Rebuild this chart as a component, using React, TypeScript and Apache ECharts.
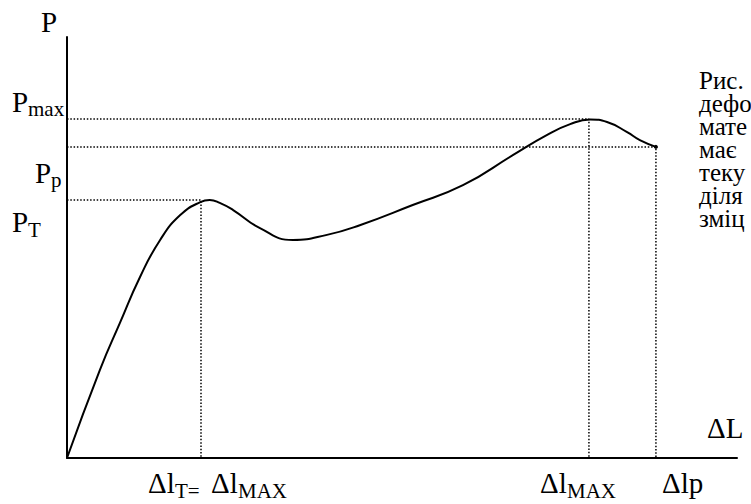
import React, { useEffect, useRef } from "react";
import * as echarts from "echarts";

// Curve P(Δl) (x: 0..100 along ΔL, y: 0..100 along P)
const CURVE_X = [0, 4.9, 7.9, 10.9, 13.9, 16.9, 19.9, 21.3, 22.8, 24.8, 28.8, 33.7, 38.8, 43.7, 51.6, 59.1, 66.6, 71.6, 75.1, 78.1, 80.6, 83.6, 85.5, 87.9];
const CURVE_Y = [0, 20.9, 32.1, 43.0, 51.8, 57.7, 60.8, 61.3, 60.6, 58.9, 54.6, 51.8, 53.0, 55.3, 60.1, 64.8, 72.0, 76.7, 79.3, 80.4, 79.8, 77.4, 75.5, 73.9];

// Characteristic points: [Δl, P]
const YIELD_POINT = [20.0, 61.3];
const MAX_POINT = [77.9, 80.5];
const RUPTURE_POINT = [87.9, 73.9];

const CAPTION_LINES = ["Рис.", "дефо", "мате", "має", "теку", "діля", "зміц"];

const FONT = "Liberation Serif";

function guide(p: number[]) {
  return [
    [0, p[1]],
    [p[0], p[1]],
    [p[0], 0],
  ];
}

export default function App() {
  const ref = useRef<HTMLDivElement>(null);

  useEffect(() => {
    if (!ref.current) return;
    const chart = echarts.init(ref.current, undefined, { renderer: "svg" });

    const main = 29;
    const sub = 21;
    const t = (text: string, x: number, y: number, size: number) => ({
      type: "text",
      x,
      y,
      style: {
        text,
        fontFamily: FONT,
        fontSize: size,
        fill: "#000",
        verticalAlign: "middle",
      },
    });

    const graphics: any[] = [
      t("P", 41, 22, main),
      t("P", 12, 102, main),
      t("max", 28, 109, sub),
      t("P", 35, 173, main),
      t("p", 51, 180, sub),
      t("P", 12, 222, main),
      t("T", 28, 230, sub),
      t("ΔL", 707, 428, main),
      t("Δl", 148, 483, main),
      t("T=", 175, 491, sub),
      t("Δl", 211, 483, main),
      t("MAX", 238, 491, sub),
      t("Δl", 540, 483, main),
      t("MAX", 567, 491, sub),
      t("Δlp", 662, 483, main),
    ];
    CAPTION_LINES.forEach((line, i) => {
      graphics.push(t(line, 699, 80 + 23 * i, 25));
    });

    const dotted = (p: number[]) => ({
      type: "line",
      data: guide(p),
      showSymbol: false,
      silent: true,
      clip: false,
      lineStyle: { color: "#000", width: 1.5, type: [1.5, 1.8] },
    });

    const curve: any[] = CURVE_X.map((x, i) => [x, CURVE_Y[i]]);
    const last = curve.length - 1;
    curve[last] = { value: curve[last], symbol: "circle", symbolSize: 4 };

    chart.setOption({
      animation: false,
      backgroundColor: "#fff",
      grid: { left: 67, right: 14, top: 37, bottom: 46 },
      xAxis: {
        type: "value",
        min: 0,
        max: 100,
        axisLine: { show: true, onZero: false, lineStyle: { color: "#000", width: 2 } },
        axisTick: { show: false },
        axisLabel: { show: false },
        splitLine: { show: false },
      },
      yAxis: {
        type: "value",
        min: 0,
        max: 100,
        axisLine: { show: true, onZero: false, lineStyle: { color: "#000", width: 2 } },
        axisTick: { show: false },
        axisLabel: { show: false },
        splitLine: { show: false },
      },
      series: [
        dotted(YIELD_POINT),
        dotted(MAX_POINT),
        dotted(RUPTURE_POINT),
        {
          type: "line",
          data: curve,
          smooth: 0.5,
          symbol: "none",
          showSymbol: true,
          clip: false,
          itemStyle: { color: "#000" },
          lineStyle: { color: "#000", width: 2 },
        },
      ],
      graphic: graphics,
    });

    return () => chart.dispose();
  }, []);

  return (
    <div style={{ position: "absolute", left: 0, top: 0, width: 751, height: 504, overflow: "hidden", fontFamily: FONT }}>
      <span style={{ position: "absolute", left: 0, top: 0, fontFamily: FONT }}>{"\u00a0"}</span>
      <div ref={ref} style={{ position: "absolute", left: 0, top: 0, width: 751, height: 504 }} />
    </div>
  );
}
